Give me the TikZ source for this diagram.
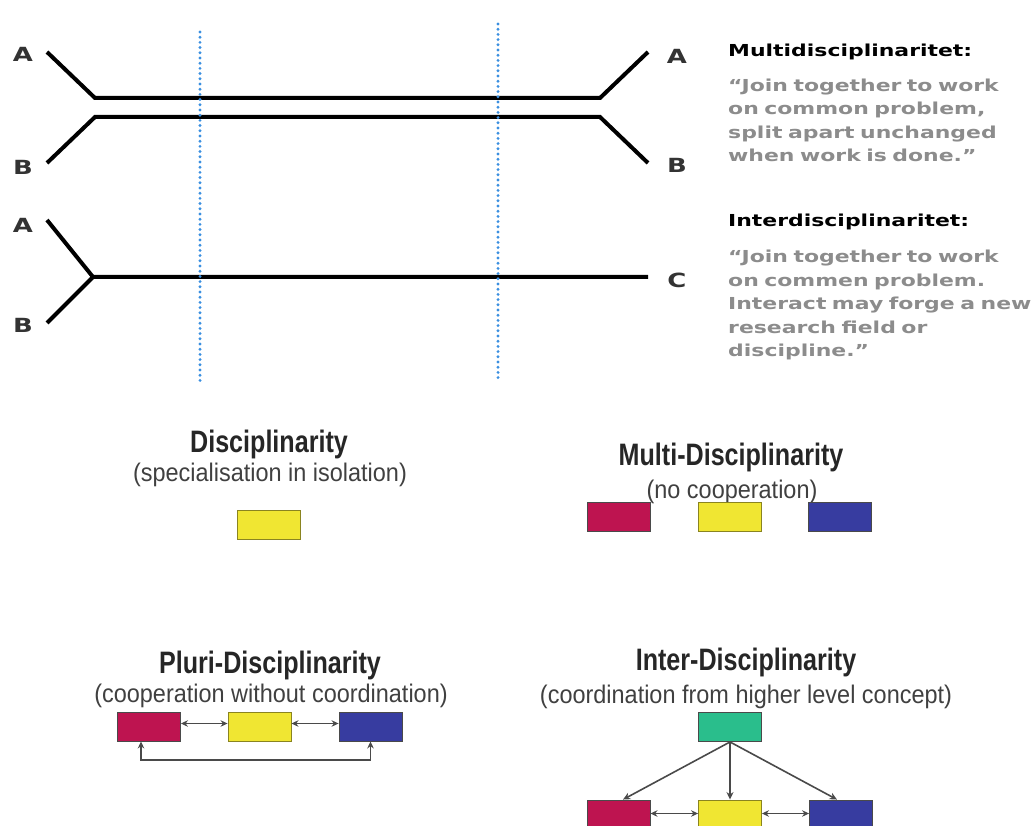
\documentclass[tikz,border=0pt]{standalone}
\usepackage{fontspec}
\usetikzlibrary{arrows.meta}
\newfontfamily\widefont[FakeStretch=1.33]{DejaVu Sans}
\newfontfamily\headfont[FakeStretch=0.81]{Liberation Sans}
\newfontfamily\subfont[FakeStretch=0.92]{Liberation Sans}
\definecolor{dotblue}{HTML}{3A8FE0}
\definecolor{labelgray}{HTML}{333333}
\definecolor{quotegray}{HTML}{8C8C8C}
\definecolor{crimson}{HTML}{BE1450}
\definecolor{lemon}{HTML}{F0E632}
\definecolor{lemonedge}{HTML}{8A8420}
\definecolor{indigo}{HTML}{373CA0}
\definecolor{jade}{HTML}{2ABE8C}
\definecolor{edgegray}{HTML}{4A4A4A}
\begin{document}
\begin{tikzpicture}[x=1pt,y=-1pt,
  track/.style={line width=4pt, black, line join=miter},
  guide/.style={line width=3.2pt, dotblue, line cap=round, dash pattern=on 0pt off 5.2pt},
  endlabel/.style={font=\widefont\bfseries\fontsize{19.5}{20}\selectfont, text=labelgray, inner sep=0pt},
  blockhead/.style={font=\widefont\bfseries\fontsize{16.5}{20}\selectfont, text=black, inner sep=0pt, anchor=base west},
  blockbody/.style={font=\widefont\bfseries\fontsize{16.5}{23.4}\selectfont, text=quotegray, inner sep=0pt, anchor=base west, text width=320pt, align=left},
  title/.style={font=\headfont\bfseries\fontsize{31}{34}\selectfont, text=black!85, inner sep=0pt, anchor=base},
  subtitle/.style={font=\subfont\fontsize{25.5}{28}\selectfont, text=black!75, inner sep=0pt, anchor=base},
  disc/.style={draw=edgegray, line width=0.9pt, minimum width=63pt, minimum height=29pt, inner sep=0pt},
  link/.style={draw=edgegray, line width=1.6pt},
  both/.style={link, {Stealth[length=7pt,width=6.5pt]}-{Stealth[length=7pt,width=6.5pt]}},
  one/.style={link, -{Stealth[length=7.5pt,width=7pt]}}
]
\useasboundingbox (0,0) rectangle (1034,826);

% ---------- merging / splitting tracks ----------
\coordinate (a1in) at (47,52);
\coordinate (a1j) at (95,98);
\coordinate (a1k) at (600,98);
\coordinate (a1out) at (648,52);
\coordinate (b1in) at (47,163);
\coordinate (b1j) at (95,117);
\coordinate (b1k) at (600,117);
\coordinate (b1out) at (648,163);
\coordinate (a2in) at (47,220);
\coordinate (fork) at (93,277);
\coordinate (b2in) at (47,323);
\coordinate (c2out) at (648,277);

\draw[track] (a1in) -- (a1j) -- (a1k) -- (a1out);
\draw[track] (b1in) -- (b1j) -- (b1k) -- (b1out);
\draw[track] (a2in) -- (fork) -- (c2out);
\draw[track] (b2in) -- (fork);

\node[endlabel] (la1) at (23,54) {A};
\node[endlabel] (lb1) at (23,167) {B};
\node[endlabel] (ra1) at (677,56) {A};
\node[endlabel] (rb1) at (677,165) {B};
\node[endlabel] (la2) at (23,225) {A};
\node[endlabel] (lb2) at (23,325) {B};
\node[endlabel] (rc2) at (677,280) {C};

% dotted phase markers
\coordinate (g1top) at (200,32);
\coordinate (g1bot) at (200,382);
\coordinate (g2top) at (498,24);
\coordinate (g2bot) at (498,382);
\draw[guide] (g1top) -- (g1bot);
\draw[guide] (g2top) -- (g2bot);

% ---------- definitions ----------
\node[blockhead] (mhead) at (728,57) {Multidisciplinaritet:};
\node[blockbody] (mbody) at (728,91.5) {“Join together to work\\on common problem,\\split apart unchanged\\when work is done.”};
\node[blockhead] (ihead) at (728,227) {Interdisciplinaritet:};
\node[blockbody] (ibody) at (728,263) {“Join together to work\\on commen problem.\\Interact may forge a new\\research field or\\discipline.”};

% ---------- Disciplinarity ----------
\node[title] (dt) at (269,452) {Disciplinarity};
\node[subtitle] (ds) at (270,481) {(specialisation in isolation)};
\node[disc, fill=lemon, draw=lemonedge] (dy) at (268.5,525) {};

% ---------- Multi-Disciplinarity ----------
\node[title] (mt) at (731,465) {Multi-Disciplinarity};
\node[subtitle] (ms) at (732,498) {(no cooperation)};
\node[disc, fill=crimson] (mm) at (618.5,517) {};
\node[disc, fill=lemon, draw=lemonedge] (my) at (729.5,517) {};
\node[disc, fill=indigo] (mb) at (840,517) {};

% ---------- Pluri-Disciplinarity ----------
\node[title] (pt) at (270,673) {Pluri-Disciplinarity};
\node[subtitle] (ps) at (271,702) {(cooperation without coordination)};
\node[disc, fill=crimson] (pm) at (149,726.5) {};
\node[disc, fill=lemon, draw=lemonedge] (py) at (259.5,726.5) {};
\node[disc, fill=indigo] (pb) at (370.5,726.5) {};
\draw[both] ([yshift=3pt]pm.east) -- ([yshift=3pt]py.west);
\draw[both] ([yshift=3pt]py.east) -- ([yshift=3pt]pb.west);
\coordinate (loop) at (0,760);
\draw[both] ([xshift=-8pt]pm.south) -- ([xshift=-8pt]pm.south |- loop) -| (pb.south);

% ---------- Inter-Disciplinarity ----------
\node[title] (it) at (746,670) {Inter-Disciplinarity};
\node[subtitle] (is) at (746,703) {(coordination from higher level concept)};
\begin{scope}
\clip (0,0) rectangle (1034,826);
\node[disc, fill=jade] (ig) at (730,727) {};
\node[disc, fill=crimson, minimum height=31pt] (im) at (618.5,815.5) {};
\node[disc, fill=lemon, draw=lemonedge, minimum height=31pt] (iy) at (730,815.5) {};
\node[disc, fill=indigo, minimum height=31pt] (ib) at (841,815.5) {};
\end{scope}
\draw[one] (ig.south) -- ([xshift=4.5pt]im.north);
\draw[one] (ig.south) -- (iy.north);
\draw[one] (ig.south) -- ([xshift=-4pt]ib.north);
\draw[both] ([yshift=2pt]im.east) -- ([yshift=2pt]iy.west);
\draw[both] ([yshift=2pt]iy.east) -- ([yshift=2pt]ib.west);
\end{tikzpicture}
\end{document}
